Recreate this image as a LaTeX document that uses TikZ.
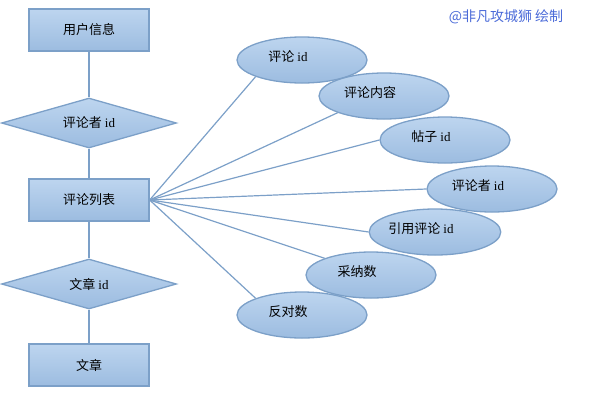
\documentclass[tikz,border=0pt]{standalone}
\usepackage{fontspec}
\setmainfont{Noto Sans CJK SC}
\newfontfamily\idfont{Liberation Serif}
\usetikzlibrary{shapes.geometric}

\definecolor{boxtop}{HTML}{BDD5EF}
\definecolor{boxbot}{HTML}{9CBCE0}
\definecolor{boxline}{HTML}{7CA0C8}
\definecolor{signblue}{HTML}{4A6AD8}
\newcommand{\idtxt}{{\idfont id}}
\newcommand{\att}[1]{#1\hspace*{28pt}}

\begin{document}
\begin{tikzpicture}[x=1pt,y=-1pt,line width=1.3pt,
    every node/.style={font=\fontsize{13}{15}\selectfont},
    entity node/.style={rectangle,draw=boxline,top color=boxtop,bottom color=boxbot,minimum width=120pt,minimum height=42pt,inner sep=0pt},
    link node/.style={diamond,draw=boxline,top color=boxtop,bottom color=boxbot,aspect=3.5,minimum width=175pt,minimum height=50pt,inner sep=0pt},
    attr node/.style={ellipse,draw=boxline,top color=boxtop,bottom color=boxbot,minimum width=130pt,minimum height=46pt,inner sep=0pt,text height=9pt,text depth=7pt},
    conn/.style={draw=boxline,line width=1.2pt}]
    \useasboundingbox (0,0) rectangle (600,400);

    \node[entity node] (1) at (89,30) {用户信息};
    \node[link node] (2) at (89,123) {评论者 \idtxt};
    \node[entity node] (3) at (89,200) {评论列表};
    \node[link node] (4) at (89,284) {文章 \idtxt};
    \node[entity node] (5) at (89,365) {文章};

    \node[attr node] (6) at (302,60) {\att{评论 \idtxt}};
    \node[attr node] (7) at (384,96) {\att{评论内容}};
    \node[attr node] (8) at (445,140) {\att{帖子 \idtxt}};
    \node[attr node] (9) at (492,189) {\att{评论者 \idtxt}};
    \node[attr node] (10) at (435,232) {\att{引用评论 \idtxt}};
    \node[attr node] (11) at (371,275) {\att{采纳数}};
    \node[attr node] (12) at (302,315) {\att{反对数}};

    \node[text=signblue,font=\fontsize{14}{16}\selectfont] (13) at (506,17) {@非凡攻城狮 绘制};

    \path[conn]
        (1) edge (2)
        (2) edge (3)
        (3) edge (4)
        (4) edge (5)
        (3.east) edge (6.south west)
        (3.east) edge (7.south west)
        (3.east) edge (8.west)
        (3.east) edge (9.west)
        (3.east) edge (10.west)
        (3.east) edge (11.north west)
        (3.east) edge (12.north west)
    ;
\end{tikzpicture}
\end{document}
